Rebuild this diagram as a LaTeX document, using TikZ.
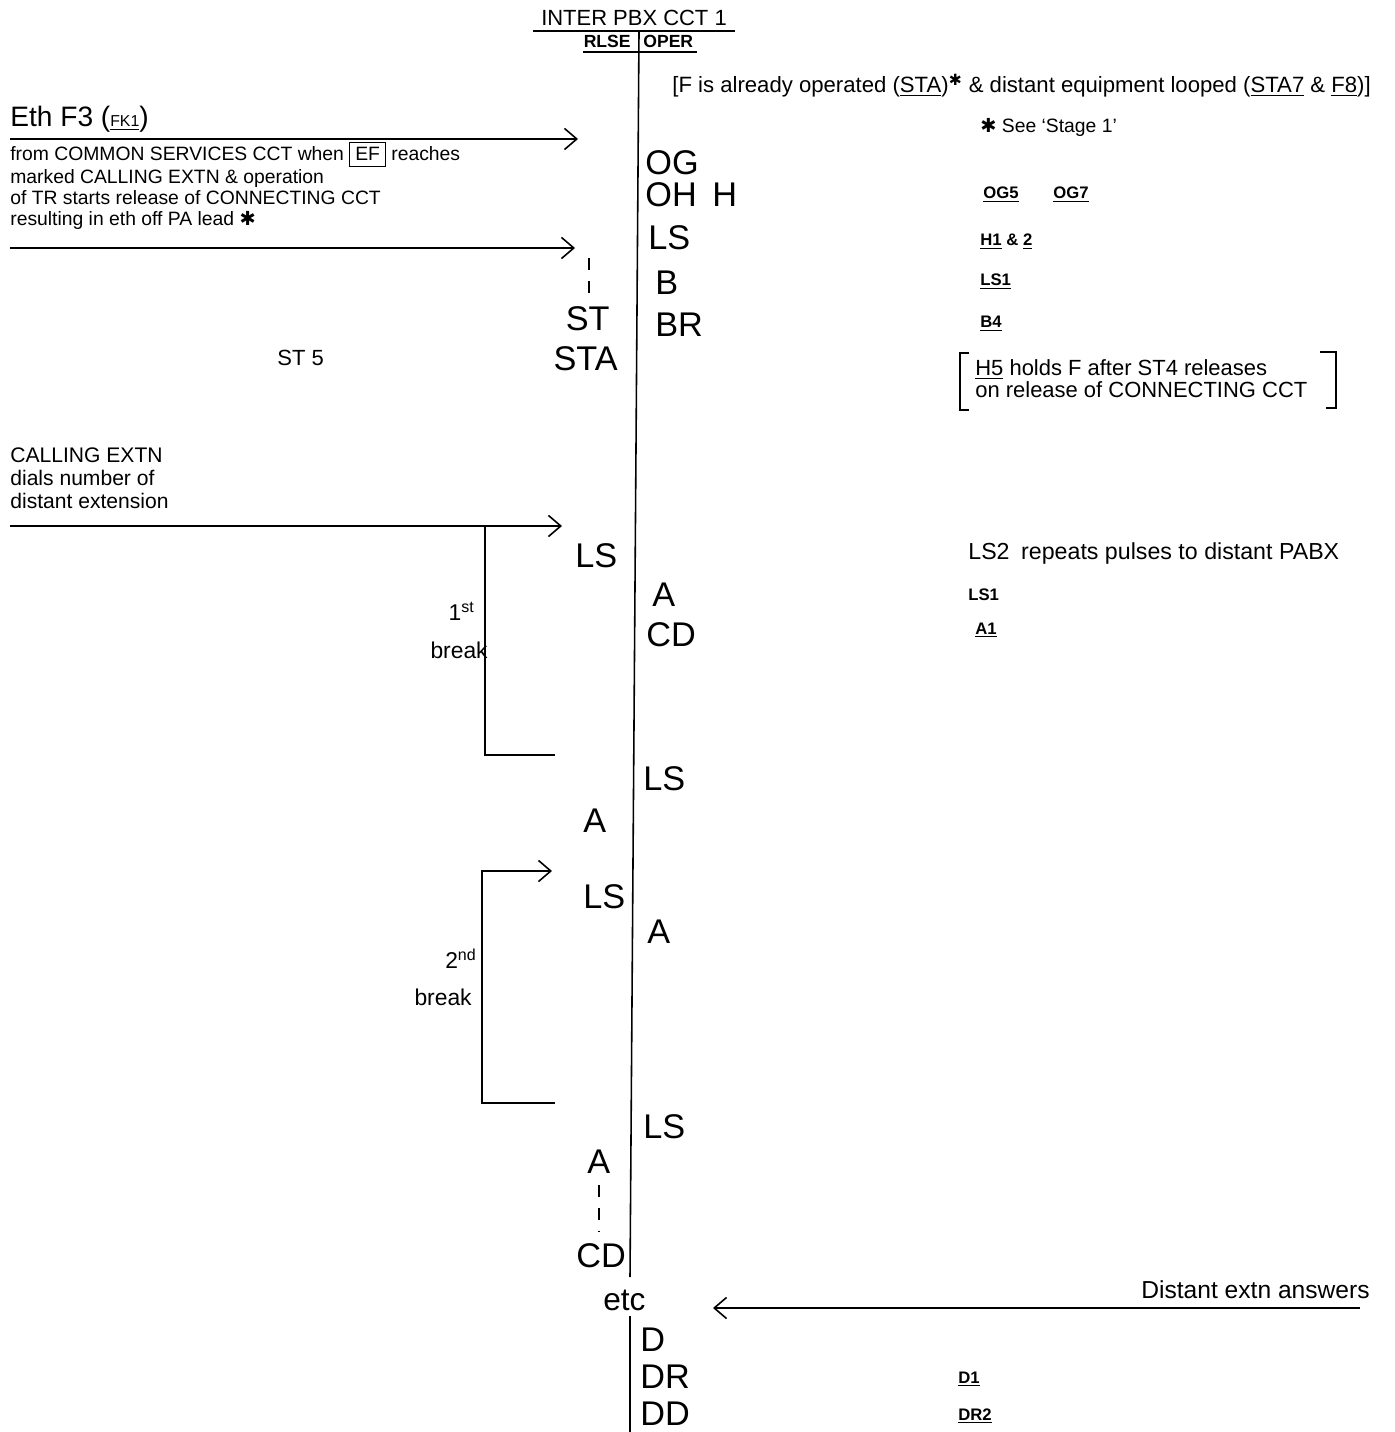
\documentclass[tikz,border=0pt]{standalone}
\usepackage{fontspec}
\setmainfont{Liberation Sans}
\newfontfamily\symfont{DejaVu Sans}
\usetikzlibrary{arrows.meta, positioning}

\begin{document}
\begin{tikzpicture}[x=0.02cm, y=-0.02cm,
    lbl/.style={inner sep=0pt, anchor=base west, font=\fontsize{12}{14}\selectfont},
    small/.style={inner sep=0pt, anchor=base west, font=\fontsize{11}{13}\selectfont},
    big/.style={inner sep=0pt, anchor=base west, text depth=0pt, font=\fontsize{19.5}{22}\selectfont},
    note/.style={inner sep=0pt, anchor=base west, font=\fontsize{9.5}{11}\selectfont\bfseries},
    arrow/.style={-{Straight Barb[length=7pt, width=12pt]}, line width=0.9pt},
    wire/.style={line width=0.9pt},
    tick/.style={line width=0.9pt, dash pattern=on 7pt off 6pt}]

    \useasboundingbox (0,0) rectangle (1394,1432);

    % heading
    \node[lbl, anchor=base, font=\fontsize{12.5}{14}\selectfont] (title) at (634,26) {INTER PBX CCT 1};
    \node[note, anchor=base east, font=\fontsize{10}{12}\selectfont\bfseries] (rlse) at (631,48) {RLSE};
    \node[note, font=\fontsize{10}{12}\selectfont\bfseries] (oper) at (643,48) {OPER};
    \draw[wire] (533,31) -- (735,31);
    \draw[wire] (583,52) -- (697,52);
    \coordinate (top) at (639,32);
    \coordinate (bot) at (630,1277);
    \coordinate (low) at (630,1316);
    \coordinate (end) at (630,1432);
    \draw[wire] (top) -- (bot);
    \draw[wire] (low) -- (end);

    % stage notes
    \node[lbl, font=\fontsize{12.6}{14}\selectfont] (fop) at (672,93) {[F is already operated (\underline{STA})\textsuperscript{\symfont ✱} \& distant equipment looped (\underline{STA7} \& \underline{F8})]};
    \node[small] (stage) at (980,133) {{\symfont ✱} See `Stage 1'};

    % incoming eth
    \node[lbl, font=\fontsize{16}{18}\selectfont] (eth) at (10,127) {Eth F3 ({\fontsize{9}{10}\selectfont\underline{FK1}})};
    \coordinate (e1s) at (10,139);
    \coordinate (e1e) at (578,139);
    \draw[arrow] (e1s) -- (e1e);
    \node[small] (from1) at (10,161) {from COMMON SERVICES CCT when \fbox{\vphantom{E}EF} reaches};
    \node[small] (from2) at (10,184) {marked CALLING EXTN \& operation};
    \node[small] (from3) at (10,205) {of TR starts release of CONNECTING CCT};
    \node[small] (from4) at (10,226) {resulting in eth off PA lead {\symfont ✱}};
    \coordinate (e2s) at (10,248);
    \coordinate (e2e) at (575,248);
    \draw[arrow] (e2s) -- (e2e);
    \draw[tick] (589,258) -- (589,302);

    \node[big] (og) at (645,175) {OG};
    \node[big] (oh) at (645,207) {OH};
    \node[big] (h) at (712,207) {H};
    \node[big] (ls1) at (648,250) {LS};
    \node[big] (b) at (655,295) {B};
    \node[big] (br) at (655,337) {BR};
    \node[big, anchor=base east] (st) at (610,331) {ST};
    \node[big, anchor=base east] (sta) at (618,371) {STA};
    \node[lbl, font=\fontsize{12.5}{14}\selectfont] (st5) at (277,366) {ST 5};

    \node[note] (og5) at (983,199) {\underline{OG5}};
    \node[note] (og7) at (1053,199) {\underline{OG7}};
    \node[note] (h12) at (980,246) {\underline{H1} \& \underline{2}};
    \node[note] (ls1n) at (980,286) {\underline{LS1}};
    \node[note] (b4) at (980,328) {\underline{B4}};

    \node[lbl, font=\fontsize{12.5}{14}\selectfont] (h5a) at (975,376) {\underline{H5} holds F after ST4 releases};
    \node[lbl, font=\fontsize{12.5}{14}\selectfont] (h5b) at (975,398) {on release of CONNECTING CCT};
    \draw[wire] (969,353) -- (960,353) -- (960,410) -- (969,410);
    \draw[wire] (1320,352) -- (1336,352) -- (1336,408) -- (1326,408);

    % dialling
    \node[lbl] (call1) at (10,462) {CALLING EXTN};
    \node[lbl] (call2) at (10,485) {dials number of};
    \node[lbl] (call3) at (10,508) {distant extension};
    \coordinate (d1s) at (10,526);
    \coordinate (d1e) at (562,526);
    \draw[arrow] (d1s) -- (d1e);
    \coordinate (brk1top) at (485,526);
    \coordinate (brk1end) at (555,755);
    \draw[wire] (brk1top) |- (brk1end);
    \node[lbl, anchor=base east, font=\fontsize{13}{15}\selectfont] (first) at (475,620) {1\textsuperscript{st}};
    \node[lbl, anchor=base east, font=\fontsize{13}{15}\selectfont] (brk1) at (488,658) {break};

    \node[big] (ls2) at (575,567) {LS};
    \node[big] (a1) at (652,606) {A};
    \node[big] (cd1) at (646,646) {CD};
    \node[lbl, font=\fontsize{13.2}{15}\selectfont] (ls2n) at (968,559) {LS2\enspace repeats pulses to distant PABX};
    \node[note] (ls1b) at (968,600) {LS1};
    \node[note] (a1n) at (975,634) {\underline{A1}};

    \node[big] (ls3) at (643,790) {LS};
    \node[big] (a2) at (583,832) {A};

    \coordinate (brk2s) at (555,1103);
    \coordinate (brk2top) at (482,871);
    \coordinate (brk2e) at (552,871);
    \draw[arrow] (brk2s) -| (brk2top) -- (brk2e);
    \node[big] (ls4) at (583,908) {LS};
    \node[big] (a3) at (647,943) {A};
    \node[lbl, anchor=base east, font=\fontsize{13}{15}\selectfont] (second) at (477,968) {2\textsuperscript{nd}};
    \node[lbl, anchor=base east, font=\fontsize{13}{15}\selectfont] (brk2) at (472,1005) {break};

    \node[big] (ls5) at (643,1138) {LS};
    \node[big] (a4) at (587,1173) {A};
    \draw[tick] (599,1185) -- (599,1232);
    \node[big] (cd2) at (576,1267) {CD};
    \node[lbl, font=\fontsize{18}{20}\selectfont] (etc) at (603,1310) {etc};

    % answer
    \node[lbl, anchor=base east, font=\fontsize{14}{16}\selectfont] (ans) at (1370,1298) {Distant extn answers};
    \coordinate (anss) at (1360,1308);
    \coordinate (anse) at (713,1308);
    \draw[arrow] (anss) -- (anse);
    \node[big] (d) at (640,1351) {D};
    \node[big] (dr) at (640,1388) {DR};
    \node[big] (dd) at (640,1425) {DD};
    \node[note] (d1n) at (958,1383) {\underline{D1}};
    \node[note] (dr2n) at (958,1420) {\underline{DR2}};
\end{tikzpicture}
\end{document}
